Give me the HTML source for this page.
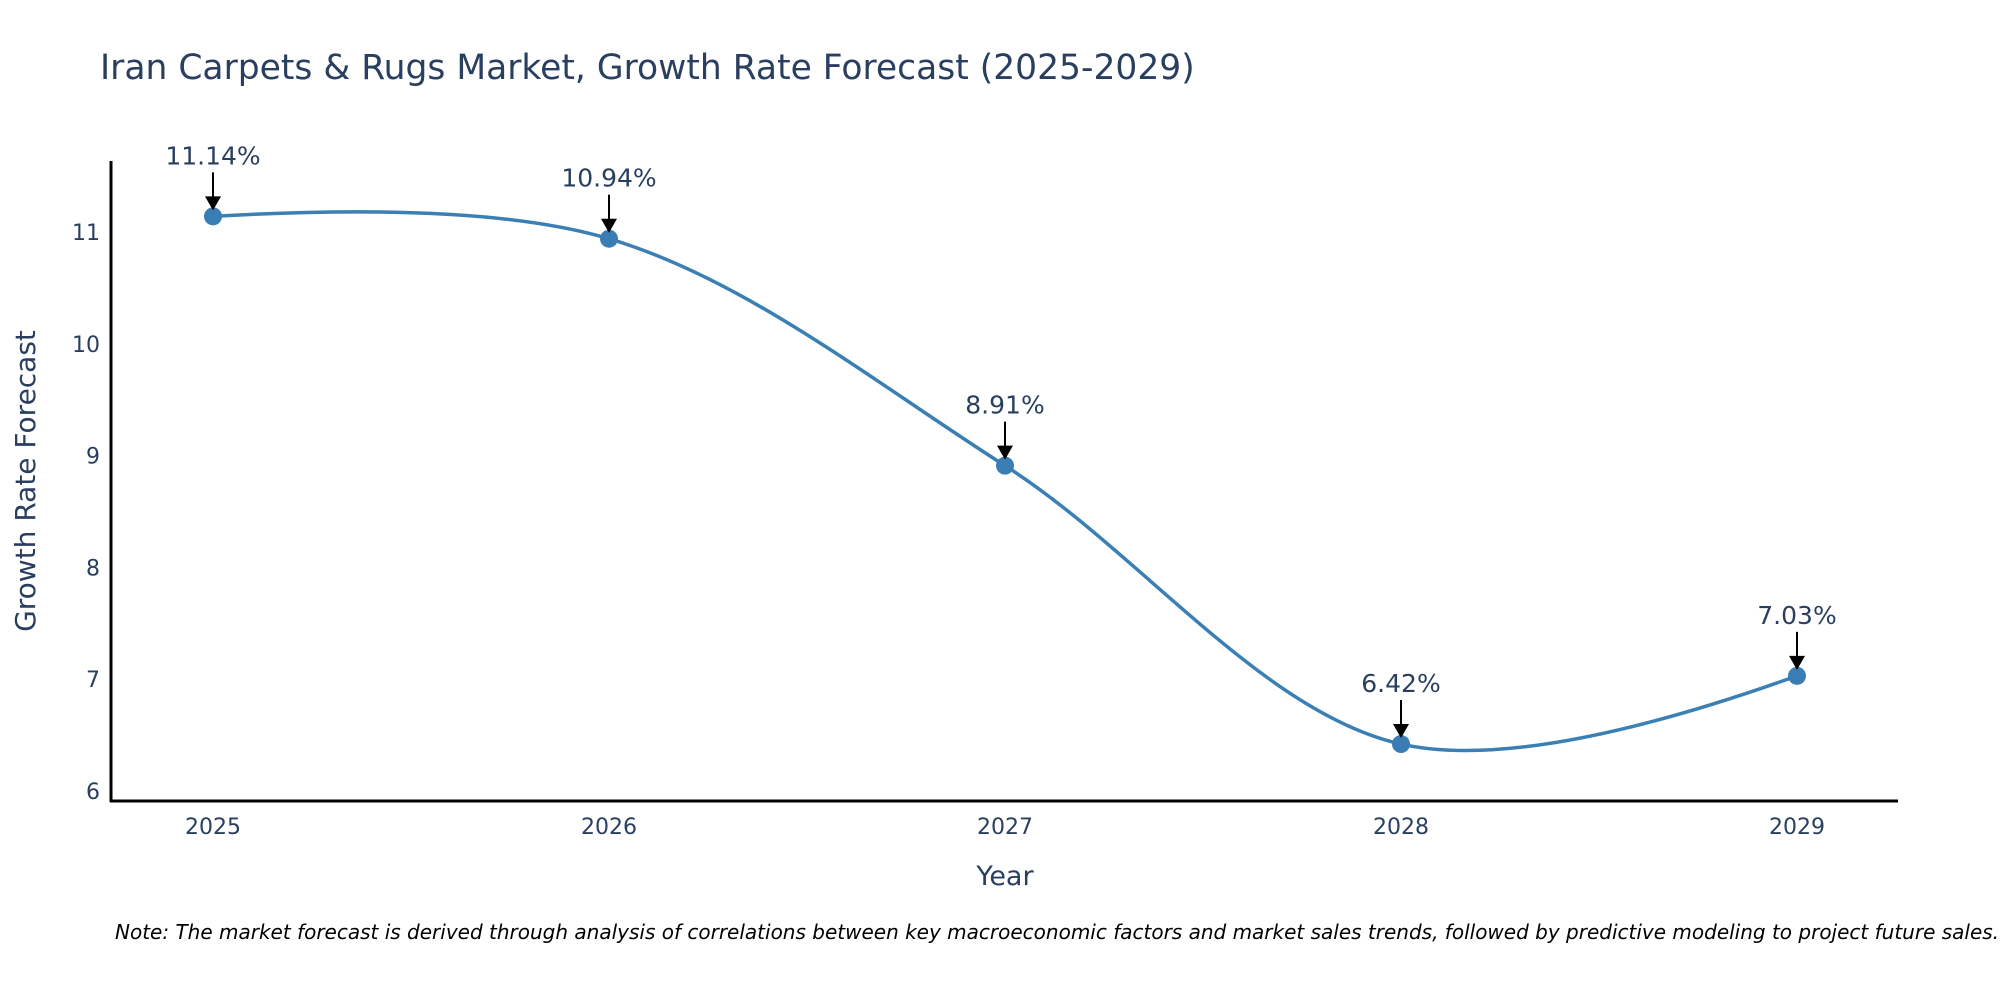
<!DOCTYPE html>
<html><head><meta charset="utf-8"><style>
body{margin:0;background:#fff;}
svg{display:block;font-family:"DejaVu Sans","Liberation Sans",sans-serif;}
</style></head><body>
<svg id="chart" width="2000" height="1000" viewBox="0 0 2000 1000">
<text x="100" y="79" font-size="34.5" fill="#2a3f5f">Iran Carpets &amp; Rugs Market, Growth Rate Forecast (2025-2029)</text>
<g id="yticks"></g>
<g id="xticks"></g>
<line x1="111" y1="161" x2="111" y2="802" stroke="#000" stroke-width="3"/>
<line x1="110" y1="801" x2="1898" y2="801" stroke="#000" stroke-width="3"/>
<text transform="translate(35,481) rotate(-90)" text-anchor="middle" font-size="28" fill="#2a3f5f">Growth Rate Forecast</text>
<text x="1005" y="885" text-anchor="middle" font-size="27" fill="#2a3f5f">Year</text>
<g id="series"></g>
<g id="annots"></g>
<text x="115" y="939" font-size="20" font-style="italic" fill="#000">Note: The market forecast is derived through analysis of correlations between key macroeconomic factors and market sales trends, followed by predictive modeling to project future sales.</text>
</svg>
<script>
const years = [2025, 2026, 2027, 2028, 2029];
const growth = [11.14, 10.94, 8.91, 6.42, 7.03];
const labels = ["11.14%", "10.94%", "8.91%", "6.42%", "7.03%"];
const yTicks = [6, 7, 8, 9, 10, 11];

const NS = "http://www.w3.org/2000/svg";
function xs(v){ return 213 + (v - 2025) * 396; }
function ys(v){ return 791 - (v - 6) * 111.8; }
function mk(tag, attrs, parent){ const e=document.createElementNS(NS,tag); for(const k in attrs) e.setAttribute(k,attrs[k]); parent.appendChild(e); return e; }

const yg=document.getElementById('yticks');
yTicks.forEach(t=>{
  const e=mk('text',{x:100,y:ys(t)+8,'text-anchor':'end','font-size':22,fill:'#2a3f5f'},yg);
  
  
  e.textContent=t;
});
const xg=document.getElementById('xticks');
years.forEach(y=>{
  const e=mk('text',{x:xs(y),y:834,'text-anchor':'middle','font-size':22,fill:'#2a3f5f'},xg);
  
  
  e.textContent=y;
});

const pts = years.map((y,i)=>[xs(y), ys(growth[i])]);
function tangent(p, c, n, s){
  const d1x=p[0]-c[0], d1y=p[1]-c[1], d2x=n[0]-c[0], d2y=n[1]-c[1];
  const d1a=Math.pow(d1x*d1x+d1y*d1y,0.25), d2a=Math.pow(d2x*d2x+d2y*d2y,0.25);
  const numx=(d2a*d2a*d1x-d1a*d1a*d2x)*s, numy=(d2a*d2a*d1y-d1a*d1a*d2y)*s;
  const den1=3*d2a*(d1a+d2a), den2=3*d1a*(d1a+d2a);
  return [[c[0]+numx/den1, c[1]+numy/den1],[c[0]-numx/den2, c[1]-numy/den2]];
}
const tg=[];
for(let i=1;i<pts.length-1;i++) tg.push(tangent(pts[i-1],pts[i],pts[i+1],1));
let d='M'+pts[0]+'Q'+tg[0][0]+' '+pts[1];
for(let i=2;i<pts.length-1;i++) d+='C'+tg[i-2][1]+' '+tg[i-1][0]+' '+pts[i];
d+='Q'+tg[pts.length-3][1]+' '+pts[pts.length-1];
const sg=document.getElementById('series');
const line=mk('path',{d:d,fill:'none',stroke:'#3a80b5','stroke-width':3.5},sg);


pts.forEach(p=>{
  const c=mk('circle',{cx:p[0],cy:p[1],r:9,fill:'#3a7db5'},sg);
  
  
});

const ag=document.getElementById('annots');
pts.forEach((p,i)=>{
  const g=mk('g',{},ag);
  
  
  mk('line',{x1:p[0],y1:p[1]-44,x2:p[0],y2:p[1]-16,stroke:'#000','stroke-width':2},g);
  mk('path',{d:`M${p[0]-8},${p[1]-20} L${p[0]+8},${p[1]-20} L${p[0]},${p[1]-6} Z`,fill:'#000'},g);
  const t=mk('text',{x:p[0],y:p[1]-52,'text-anchor':'middle','font-size':25,fill:'#2a3f5f'},g);
  t.textContent=labels[i];
});
</script>
</body></html>
